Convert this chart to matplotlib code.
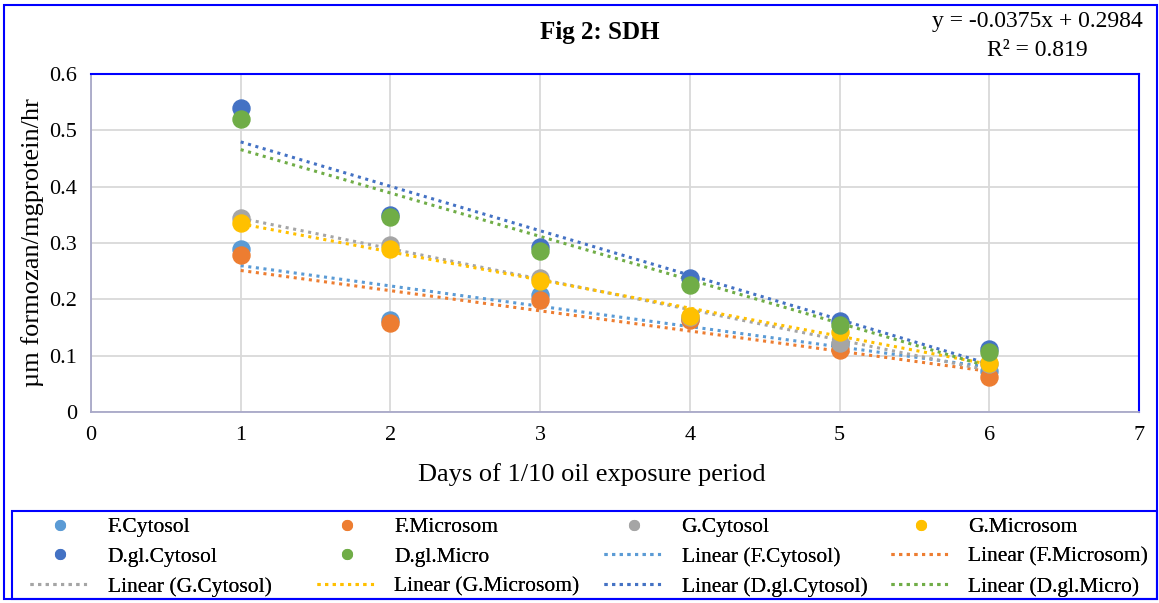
import numpy as np
import matplotlib.pyplot as plt
from matplotlib.patches import Rectangle
from matplotlib.lines import Line2D

plt.rcParams['font.family'] = ['Liberation Serif', 'DejaVu Serif']

days = [1, 2, 3, 4, 5, 6]
names = ['F.Cytosol', 'F.Microsom', 'G.Cytosol', 'G.Microsom', 'D.gl.Cytosol', 'D.gl.Micro']
f_cytosol = [0.29, 0.163, 0.208, 0.165, 0.12, 0.072]
f_microsom = [0.278, 0.158, 0.198, 0.163, 0.11, 0.063]
g_cytosol = [0.345, 0.296, 0.237, 0.168, 0.122, 0.085]
g_microsom = [0.335, 0.29, 0.232, 0.17, 0.142, 0.087]
dgl_cytosol = [0.54, 0.35, 0.293, 0.237, 0.162, 0.112]
dgl_micro = [0.52, 0.346, 0.285, 0.226, 0.155, 0.107]
series = [f_cytosol, f_microsom, g_cytosol, g_microsom, dgl_cytosol, dgl_micro]
colors = ['#5B9BD5', '#ED7D31', '#A5A5A5', '#FFC000', '#4472C4', '#70AD47']

W, H = 1159, 603
fig = plt.figure(figsize=(W / 100, H / 100), dpi=100)
ax = fig.add_axes([91 / W, 1 - 412 / H, (1139 - 91) / W, (412 - 74) / H])

# outer chart frame and legend frame
fig.patches.append(Rectangle((4 / W, 1 - 599 / H), (1157 - 4) / W, (599 - 5) / H,
                             transform=fig.transFigure, fill=False, edgecolor='#0000ff', lw=1.5))
fig.patches.append(Rectangle((12 / W, 1 - 599 / H), (1157 - 12) / W, (599 - 511) / H,
                             transform=fig.transFigure, fill=False, edgecolor='#0000ff', lw=1.5))

x = np.array(days)
marker_handles = []
trend_handles = []
for name, ys, c in zip(names, series, colors):
    ax.scatter(days, ys, s=150, color=c, zorder=3, label=name)
    marker_handles.append(Line2D([], [], marker='o', ls='none', color=c, markersize=7))
    k, b = np.polyfit(x, ys, 1)
    ax.plot(x, k * x + b, ls=(0, (1, 1.5)), lw=2.2, color=c, zorder=2)
    trend_handles.append(Line2D([], [], ls=(0, (1, 1.5)), lw=2.2, color=c))

ax.set_xlim(0, 7)
ax.set_ylim(0, 0.6)
ax.set_xticks(range(8))
ax.set_yticks([0, 0.1, 0.2, 0.3, 0.4, 0.5, 0.6])
ax.set_yticklabels(['0', '0.1', '0.2', '0.3', '0.4', '0.5', '0.6'])
ax.grid(True, color='#d9d9d9', lw=1.3)
ax.set_axisbelow(True)
ax.tick_params(length=0, labelsize=16, pad=10)
for s in ['top', 'right']:
    ax.spines[s].set_color('#0000ff')
    ax.spines[s].set_linewidth(1.5)
for s in ['left', 'bottom']:
    ax.spines[s].set_color('#a8a8c8')
    ax.spines[s].set_linewidth(1.3)
ax.set_xlabel('Days of 1/10 oil exposure period', fontsize=19)
ax.xaxis.set_label_coords((592 - 91) / (1139 - 91), -0.15)
ax.set_ylabel('µm formozan/mgprotein/hr', fontsize=19, labelpad=4)

fig.text(600 / W, 1 - 33 / H, 'Fig 2: SDH', fontsize=18, fontweight='bold', ha='center', va='center')
fig.text(1037 / W, 1 - 22 / H, 'y = -0.0375x + 0.2984', fontsize=17, ha='center', va='center')
fig.text(1037 / W, 1 - 50 / H, 'R² = 0.819', fontsize=17, ha='center', va='center')

labels = names + ['Linear (%s)' % n for n in names]
handles = marker_handles + trend_handles
# one legend per column, items read row by row
for c in range(4):
    idx = [r * 4 + c for r in range(3)]
    leg = fig.legend([handles[i] for i in idx], [labels[i] for i in idx],
                     loc='upper left', bbox_to_anchor=((30 + 287 * c) / W, 1 - 517 / H),
                     fontsize=15.5, frameon=False, handlelength=2.8, handletextpad=0.8,
                     borderaxespad=0, borderpad=0, labelspacing=0.45)
    fig.add_artist(leg)

fig.savefig('out.png', dpi=100)
